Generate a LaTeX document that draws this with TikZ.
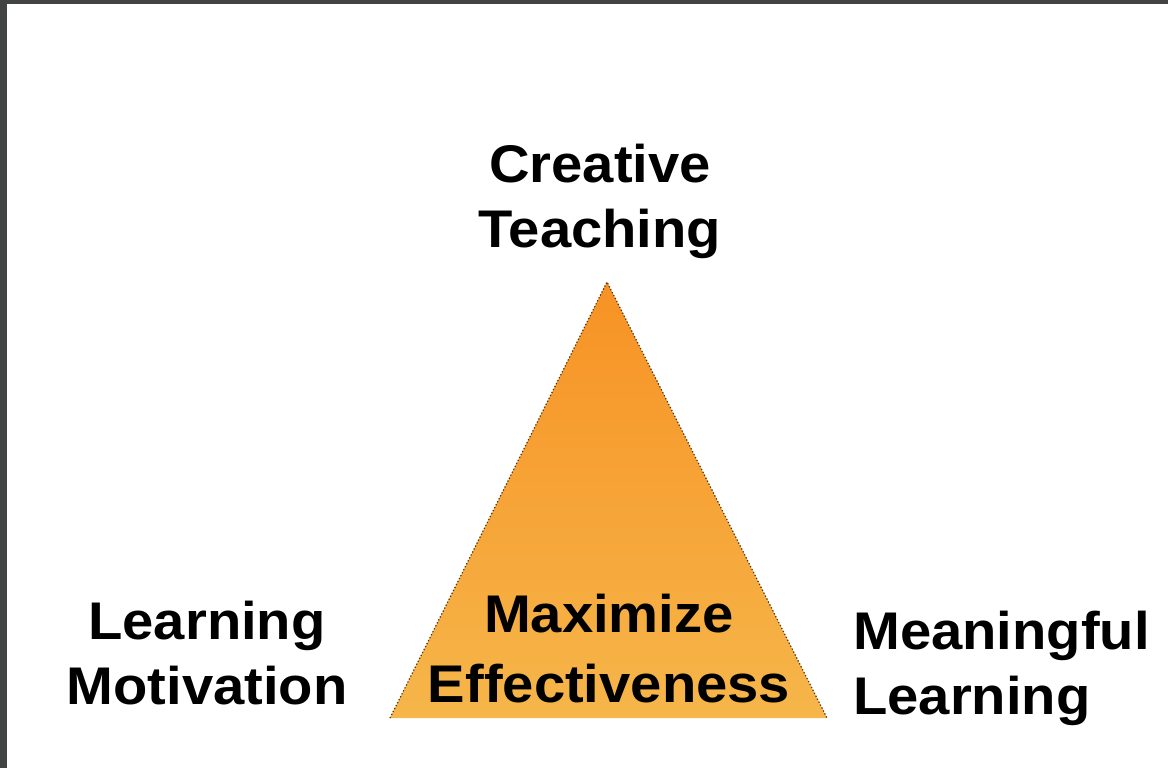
\documentclass[tikz,border=0pt]{standalone}
\usepackage{fontspec}
\setmainfont[FakeStretch=1.06]{Liberation Sans}
\begin{document}
\begin{tikzpicture}[x=1pt,y=-1pt,
  label/.style={inner sep=0pt, font=\bfseries\fontsize{53}{65}\selectfont, text=black},
  framebar/.style={fill={rgb,255:red,66;green,67;blue,67}, draw=none}]
% canvas and dark frame along the top and left edges
\useasboundingbox (0,0) rectangle (1168,768);
\fill[white] (0,0) rectangle (1168,768);
\fill[framebar] (0,0) rectangle (1168,4);
\fill[framebar] (0,0) rectangle (7,768);

% central triangle
\coordinate (apex) at (607,282);
\coordinate (bl) at (390,718);
\coordinate (br) at (827,718);
\shade[top color={rgb,255:red,247;green,146;blue,36},
       bottom color={rgb,255:red,246;green,182;blue,74}]
  (apex) -- (br) -- (bl) -- cycle;
\draw[line width=1.2pt, dash pattern=on 1.3pt off 2pt,
      color={rgb,255:red,80;green,52;blue,20}]
  (bl) -- (apex) -- (br);

% labels
\node[label, align=center] (top) at (600,201) {Creative\\Teaching};
\node[label, align=center] (left) at (207,653) {Learning\\Motivation};
\node[label, align=left, anchor=west] (right) at (853,668) {Meaningful\\Learning};
\node[label, align=center, font=\bfseries\fontsize{53}{70}\selectfont] (mid) at (609,649) {Maximize\\Effectiveness};
\end{tikzpicture}
\end{document}
